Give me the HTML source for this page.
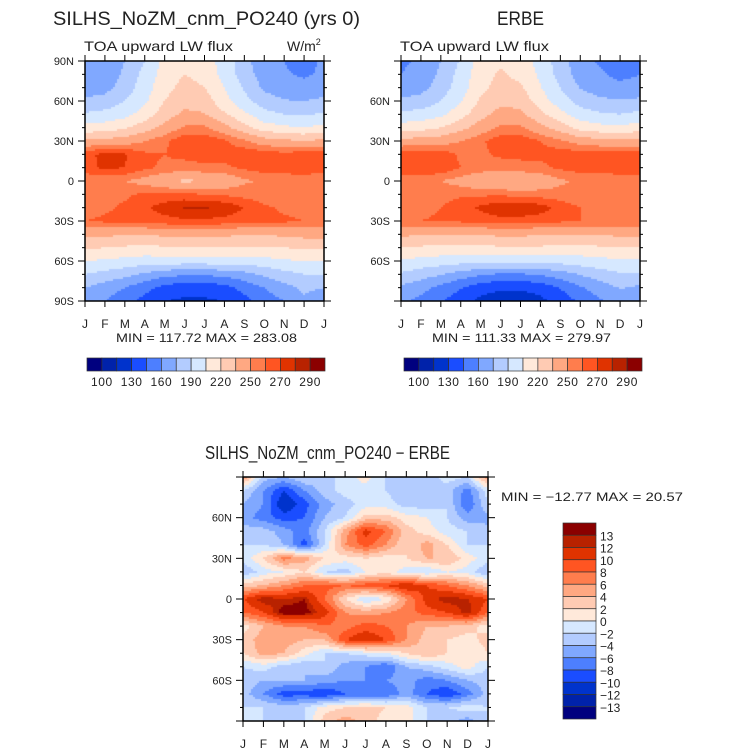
<!DOCTYPE html>
<html><head><meta charset="utf-8">
<style>
body{margin:0;background:#fff;}
svg{position:absolute;left:0;top:0;}
canvas{position:absolute;}
text{font-family:"Liberation Sans",sans-serif;fill:#222;}
</style></head>
<body>
<canvas id="c1" style="left:85px;top:61px" width="239" height="240"></canvas>
<canvas id="c2" style="left:401px;top:61px" width="239" height="240"></canvas>
<canvas id="c3" style="left:243px;top:477px" width="245" height="244"></canvas>
<svg id="s" width="733" height="751"></svg>
<script>
const months=["J","F","M","A","M","J","J","A","S","O","N","D","J"];
const latLabelsFull=["90N","60N","30N","0","30S","60S","90S"];
const latLabelsShort=["","60N","30N","0","30S","60S",""];
const absLevels=[100,115,130,145,160,175,190,205,220,235,250,260,270,280,290];
const absLabels=["100","130","160","190","220","250","270","290"];
const diffLevels=[-13,-12,-10,-8,-6,-4,-2,0,2,4,6,8,10,12,13];
const diffLabels=["13","12","10","8","6","4","2","0","\u22122","\u22124","\u22126","\u22128","\u221210","\u221212","\u221213"];
const colors=["#00007f","#0022aa","#0033cc","#1a4dff","#4d7fff","#80a8ff","#b3ccff","#d6e8ff","#ffe9da","#ffcbb3","#ffa882","#ff7d4d","#ff5522","#e03300","#b82200","#8b0000"];
// rows: 90N -> 90S (every 10 deg), cols: J..J
const modelData=[
[165,165,175,190,210,215,210,200,180,165,160,150,165],
[163,165,178,195,212,220,215,200,182,168,162,158,163],
[168,170,182,198,215,225,220,205,188,172,166,165,168],
[178,180,190,202,220,230,228,210,195,182,176,175,178],
[192,195,200,212,228,238,236,222,208,195,190,188,192],
[210,212,218,228,240,252,252,240,225,212,208,205,210],
[238,240,242,250,258,268,268,262,252,242,238,236,238],
[268,272,271,262,260,263,264,264,268,266,264,266,268],
[266,272,270,262,258,256,258,258,262,265,266,268,266],
[252,252,250,245,238,232,235,240,248,252,253,252,252],
[250,256,258,262,262,262,260,258,256,254,252,250,250],
[255,258,262,268,275,281,281,278,270,262,258,256,255],
[260,262,264,265,266,268,268,266,264,262,262,260,260],
[240,238,236,236,238,240,240,238,236,236,238,240,240],
[222,220,218,216,218,220,220,220,218,218,220,222,222],
[205,203,200,198,198,198,198,198,198,200,203,205,205],
[190,185,180,172,165,162,162,165,170,178,185,190,190],
[175,168,160,150,140,135,135,140,150,160,170,178,175],
[165,160,150,140,130,128,128,130,140,152,160,172,165]];
const erbeData=[
[158,162,175,192,212,218,212,200,182,166,158,150,158],
[160,164,178,196,214,222,216,202,184,168,162,156,160],
[166,170,182,198,216,226,222,206,190,174,168,164,166],
[178,180,190,204,222,232,230,212,197,184,178,176,178],
[194,196,202,214,230,240,238,224,210,197,192,190,194],
[212,214,220,230,242,252,252,240,228,214,210,208,212],
[240,242,244,250,258,266,267,260,252,244,240,238,240],
[266,268,266,258,258,262,263,263,266,266,266,266,266],
[268,270,268,260,256,255,256,257,262,265,266,268,268],
[252,252,250,245,238,234,236,240,248,252,252,252,252],
[250,254,256,258,258,258,256,255,254,252,250,250,250],
[254,256,260,266,272,278,278,275,266,260,256,255,254],
[258,260,262,262,264,266,266,264,262,260,260,258,258],
[238,236,235,235,236,238,238,236,235,235,236,238,238],
[220,218,216,215,216,218,218,218,216,216,218,220,220],
[203,200,198,196,196,196,196,196,196,198,200,203,203],
[188,182,176,168,162,158,158,162,168,176,183,188,188],
[172,165,156,146,136,132,132,136,146,158,168,176,172],
[162,156,146,136,126,122,122,126,136,148,158,168,162]];
const diffData=[
[6,-3,-4,-2,-3,-1,1,-2,-2,-3,-1,-2,6],
[-2,-6,-10,-6,-3,-1,-1,-2,-4,-4,-3,-7,-1],
[-4,-6,-12,-9,-5,-3,-1,-1,-3,-3,-2,-8,-2],
[-5,-7,-9,-8,-4,-2,3,3,1,0,-2,-5,-5],
[-3,-3,-5,-7,-2,5,11,8,3,1,-1,-2,-3],
[-2,-2,-4,-9,-2,6,9,6,2,5,2,-2,-2],
[-1,2,7,5,2,1,2,1,2,4,4,1,-1],
[-4,-1,0,2,-2,-3,0,1,-1,-2,0,-1,-4],
[3,4,6,8,9,8,9,10,12,10,8,6,3],
[10,13,12,13,8,2,-2,0,6,11,13,12,10],
[8,10,14,14,11,6,5,6,7,9,10,13,8],
[1,4,6,6,8,7,9,8,6,4,4,3,1],
[3,5,5,4,4,10,12,10,6,3,2,1,3],
[2,5,4,1,-2,-2,-1,0,2,4,2,0,2],
[-2,-1,-3,-4,-2,-5,-6,-8,-4,-3,-1,1,-2],
[-3,-4,-4,-4,-5,-6,-6,-6,-5,-7,-6,-4,-3],
[-3,-6,-9,-9,-10,-8,-8,-8,-5,-8,-10,-7,-3],
[-2,-2,-3,-2,1,2,3,2,1,-2,-2,-1,-2],
[-2,-2,-2,-2,3,5,3,1,1,-2,-3,-5,-2]];

function levelIndex(v,lev){let i=0;while(i<lev.length&&v>=lev[i])i++;return i;}
function drawMap(id,data,lev){
  const cv=document.getElementById(id),ctx=cv.getContext('2d');
  const W=cv.width,H=cv.height,nr=data.length,nc=data[0].length;
  const cs=2;
  for(let py=0;py<H;py+=cs){for(let px=0;px<W;px+=cs){
    const gx=(px+cs/2)/W*(nc-1),gy=(py+cs/2)/H*(nr-1);
    const i0=Math.min(Math.floor(gy),nr-2),j0=Math.min(Math.floor(gx),nc-2);
    const fy=gy-i0,fx=gx-j0;
    const v=data[i0][j0]*(1-fx)*(1-fy)+data[i0][j0+1]*fx*(1-fy)+data[i0+1][j0]*(1-fx)*fy+data[i0+1][j0+1]*fx*fy;
    ctx.fillStyle=colors[levelIndex(v,lev)];
    ctx.fillRect(px,py,cs,cs);
  }}
}
drawMap('c1',modelData,absLevels);
drawMap('c2',erbeData,absLevels);
drawMap('c3',diffData,diffLevels);

const S=document.getElementById('s');
const NS="http://www.w3.org/2000/svg";
function el(tag,attrs,txt){const e=document.createElementNS(NS,tag);for(const k in attrs)e.setAttribute(k,attrs[k]);if(txt!==undefined)e.textContent=txt;S.appendChild(e);return e;}

function frame(x,y,w,h,latLabels,name){
  const g=el('rect',{x:x,y:y,width:w,height:h,fill:'none',stroke:'#000','stroke-width':1.5});
  
  
  for(let m=0;m<months.length;m++){
    const tx=x+m*w/(months.length-1);
    el('line',{x1:tx,y1:y,x2:tx,y2:y-6,stroke:'#000'});
    el('line',{x1:tx,y1:y+h,x2:tx,y2:y+h+6,stroke:'#000'});
    const t=el('text',{x:tx,y:y+h+27,'font-size':12,'text-anchor':'middle'},months[m]);
    
    
  }
  for(let k=0;k<=18;k++){
    const ty=y+k*h/18,major=k%3===0,len=major?7:3;
    el('line',{x1:x,y1:ty,x2:x-len,y2:ty,stroke:'#000'});
    el('line',{x1:x+w,y1:ty,x2:x+w+len,y2:ty,stroke:'#000'});
    if(major&&latLabels[k/3]){
      const t=el('text',{x:x-11,y:ty+4,'font-size':11,'text-anchor':'end'},latLabels[k/3]);
      
      
    }
  }
}
frame(85,61,239,240,latLabelsFull,'model-panel');
frame(401,61,239,240,latLabelsShort,'erbe-panel');
frame(243,477,245,244,latLabelsShort,'difference-panel');

function hbar(x,y,w,h,labels,name){
  const n=colors.length,bw=w/n;
  for(let i=0;i<n;i++){
    const r=el('rect',{x:x+i*bw,y:y,width:bw,height:h,fill:colors[i],stroke:'#333','stroke-width':0.7});
    
    
  }
  for(let k=0;k<labels.length;k++){
    const t=el('text',{x:x+(2*k+1)*bw,y:y+h+15,'font-size':12,'text-anchor':'middle','letter-spacing':0.6},labels[k]);
    
    
  }
}
hbar(87,358,238,13,absLabels,'model-colorbar');
hbar(404,358,238,13,absLabels,'erbe-colorbar');
(function(){
  const x=563,y=523,w=33,h=196,n=colors.length,bh=h/n;
  for(let i=0;i<n;i++){
    const r=el('rect',{x:x,y:y+i*bh,width:w,height:bh,fill:colors[n-1-i],stroke:'#333','stroke-width':0.7});
    
    
  }
  for(let k=0;k<diffLabels.length;k++){
    const t=el('text',{x:x+w+4,y:y+(k+1)*bh+5,'font-size':12},diffLabels[k]);
    
    
  }
})();
</script>
<svg width="733" height="751" style="pointer-events:none">
<text x="53" y="25" font-size="19" fill="#444" textLength="307" lengthAdjust="spacingAndGlyphs">SILHS_NoZM_cnm_PO240 (yrs 0)</text>
<text x="84" y="51" font-size="14" fill="#333" textLength="149" lengthAdjust="spacingAndGlyphs">TOA upward LW flux</text>
<text x="287" y="51" font-size="14" fill="#333">W/m<tspan dy="-6" font-size="9">2</tspan></text>
<text x="116" y="342" font-size="12" textLength="181" lengthAdjust="spacingAndGlyphs">MIN = 117.72 MAX = 283.08</text>
<text x="497" y="25" font-size="19" fill="#444" textLength="47" lengthAdjust="spacingAndGlyphs">ERBE</text>
<text x="400" y="51" font-size="14" fill="#333" textLength="149" lengthAdjust="spacingAndGlyphs">TOA upward LW flux</text>
<text x="432" y="342" font-size="12" textLength="179" lengthAdjust="spacingAndGlyphs">MIN = 111.33 MAX = 279.97</text>
<text x="205" y="459" font-size="18" fill="#444" textLength="245" lengthAdjust="spacingAndGlyphs">SILHS_NoZM_cnm_PO240 − ERBE</text>
<text x="501" y="501" font-size="12" textLength="182" lengthAdjust="spacingAndGlyphs">MIN = −12.77 MAX =  20.57</text>
</svg>
</body></html>
